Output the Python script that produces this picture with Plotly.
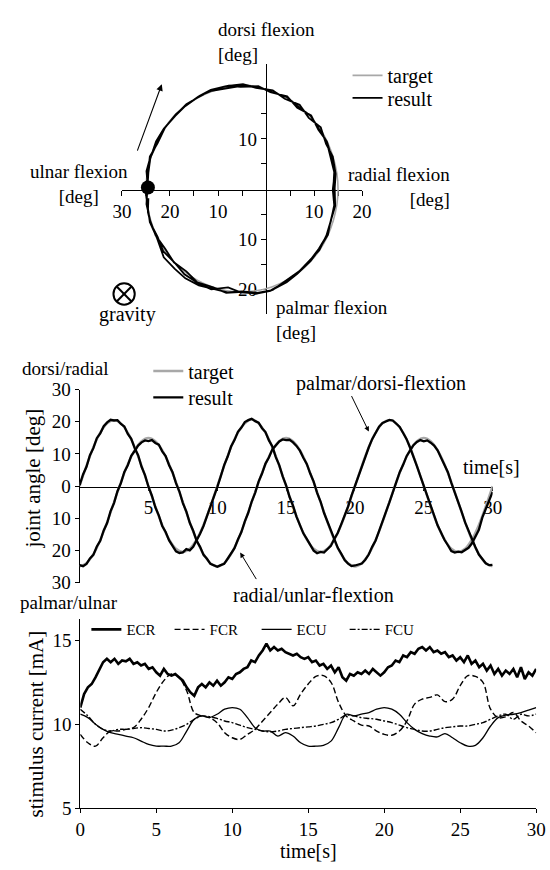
import numpy as np
import plotly.graph_objects as go

W, H = 550, 870
def PX(x): return x / W
def PY(y): return 1 - y / H

FONT = "Liberation Serif"

# ---------------- data ----------------
# joint-angle trajectories (deg), target sampled every 0.5 s
t_target = np.arange(0, 30.001, 0.5)
PD_TARGET = [0, 6.3, 12.1, 16.6, 19.5, 20.5, 19.5, 16.6, 12.1, 6.3,
             0, -6.3, -12.1, -16.6, -19.5, -20.5, -19.5, -16.6, -12.1, -6.3,
             0, 6.3, 12.1, 16.6, 19.5, 20.8, 19.5, 16.6, 12.1, 6.3,
             0, -6.3, -12.1, -16.6, -19.5, -20.5, -19.5, -16.6, -12.1, -6.3,
             0, 6.3, 12.1, 16.6, 19.5, 20.5, 19.5, 16.6, 12.1, 6.3,
             0, -6.3, -12.1, -16.6, -19.5, -20.5, -19.5, -16.6, -12.1, -6.3,
             0]
RU_TARGET = [-25, -24.0, -21.2, -16.8, -11.2, -5, 1.2, 6.8, 11.2, 14.0,
             15, 14.0, 11.2, 6.8, 1.2, -5, -11.2, -16.8, -21.2, -24.0,
             -25, -24.0, -21.2, -16.8, -11.2, -5, 1.2, 6.8, 11.2, 14.0,
             15, 14.0, 11.2, 6.8, 1.2, -5, -11.2, -16.8, -21.2, -24.0,
             -25, -24.0, -21.2, -16.8, -11.2, -5, 1.2, 6.8, 11.2, 14.0,
             15, 14.0, 11.2, 6.8, 1.2, -5, -11.2, -16.8, -21.2, -24.0,
             -25]

# result sampled every 0.25 s
t_result = np.arange(0, 30.001, 0.25)
PD_RESULT = [0.3, 3.6, 6.0, 9.6, 11.8, 14.9, 16.4, 18.6, 19.8, 20.6,
             20.4, 20.5, 19.3, 18.5, 16.2, 14.7, 11.8, 9.6, 6.0, 3.4,
             -0.2, -3.0, -6.6, -9.1, -12.4, -14.3, -16.9, -18.6, -20.3, -20.8,
             -20.6, -19.6, -20.0, -18.9, -17.0, -14.8, -12.4, -9.5, -6.6, -3.4,
             -0.3, 3.0, 6.5, 9.1, 12.3, 14.3, 16.9, 18.2, 19.9, 20.5,
             20.9, 20.2, 19.7, 18.0, 16.8, 14.2, 12.3, 9.0, 6.5, 3.0,
             0.2, -3.4, -6.1, -9.5, -11.9, -14.7, -16.4, -18.5, -20.1, -20.9,
             -20.5, -20.7, -19.6, -18.6, -16.4, -14.6, -11.9, -9.2, -6.4, -3.0,
             0.1, 3.3, 6.1, 9.5, 12.0, 14.6, 16.5, 18.5, 19.6, 20.2,
             20.6, 20.4, 19.4, 18.4, 16.5, 14.6, 12.0, 9.4, 6.2, 3.1,
             -0.1, -3.2, -6.4, -9.2, -12.2, -14.4, -16.7, -18.4, -20.2, -20.7,
             -20.4, -20.6, -19.9, -19.2, -17.8, -15.9, -13.6, -9.8, -7.0, -4.6,
             -1.8]
RU_RESULT = [-24.6, -24.9, -24.2, -22.5, -21.4, -18.8, -17.0, -13.8, -11.5, -7.8,
             -5.3, -1.6, 0.9, 4.4, 6.5, 9.4, 10.9, 12.6, 13.6, 14.2,
             14.0, 14.3, 13.4, 12.9, 10.8, 9.3, 6.5, 4.3, 0.9, -1.7,
             -5.3, -7.9, -11.4, -13.9, -17.0, -18.9, -21.4, -22.6, -24.2, -24.6,
             -25.1, -24.6, -24.2, -22.6, -21.0, -19.3, -16.6, -14.3, -11.0, -8.3,
             -4.8, -2.1, 1.4, 3.9, 7.0, 8.9, 11.4, 12.5, 13.9, 14.5,
             14.3, 14.4, 13.6, 12.5, 11.0, 8.8, 6.9, 3.9, 1.4, -2.1,
             -4.8, -8.3, -11.0, -14.3, -16.6, -19.2, -21.0, -23.0, -24.1, -24.9,
             -24.7, -24.5, -24.1, -22.9, -21.3, -18.9, -16.9, -14.0, -11.3, -8.0,
             -5.1, -1.8, 1.0, 4.3, 6.6, 9.3, 11.0, 12.7, 13.7, 14.3,
             13.9, 14.2, 13.5, 12.6, 11.1, 9.0, 6.6, 4.3, 1.0, -1.8,
             -5.1, -8.0, -11.3, -14.0, -16.8, -19.0, -21.3, -22.7, -24.0, -24.6,
             -24.5]

# stimulus currents (mA)
t_ecr = np.arange(0, 30.001, 0.25)
ECR = [11.0, 11.8, 12.2, 12.4,   12.8, 13.3, 13.7, 13.9,   13.7, 13.9, 13.6, 13.8,
       13.75, 13.9, 13.6, 13.7,  13.5, 13.6, 13.3, 13.4,   13.1, 12.9, 13.3, 13.0,
       12.9, 13.0, 12.8, 12.6,   12.2, 11.9, 11.7, 12.2,   12.4, 12.2, 12.5, 12.3,
       12.6, 12.3, 12.5, 12.8,   12.7, 13.0, 13.1, 13.3,   13.4, 13.8, 13.7, 14.1,
       14.4, 14.8, 14.4, 14.6,   14.4, 14.5, 14.3, 14.2,   14.1, 14.2, 14.0, 13.9,
       14.0, 13.7, 13.8, 13.5,   13.6, 13.3, 13.5, 13.1,   13.4, 12.8, 12.6, 13.0,
       12.9, 13.1, 13.0, 13.2,   13.0, 13.3, 13.1, 12.9,   13.1, 13.4, 13.5, 13.8,
       13.7, 14.1, 14.0, 14.3,   14.2, 14.5, 14.6, 14.4,   14.6, 14.3, 14.4, 14.2,
       14.3, 14.0, 14.1, 13.8,   14.0, 13.7, 14.1, 13.6,   13.8, 13.4, 13.6, 13.2,
       13.5, 13.0, 13.3, 12.9,   13.2, 13.0, 13.3, 12.8,   13.4, 12.7, 13.1, 12.9,
       13.3]
t_stim = np.arange(0, 30.001, 0.5)
FCR = [9.4, 8.9, 8.7, 9.2, 9.6, 9.6, 9.7, 9.8, 10.3, 11.0,
       11.9, 12.6, 13.0, 12.8, 12.0, 10.7, 10.5, 10.4, 10.1, 9.5,
       9.2, 9.1, 9.4, 9.7, 10.2, 10.7, 11.2, 11.6, 11.1, 11.8,
       12.4, 12.85, 12.9, 12.5, 11.3, 10.5, 10.2, 9.95, 9.9, 9.6,
       9.4, 9.35, 9.6, 10.2, 11.2, 11.5, 11.6, 11.75, 11.35, 11.5,
       12.3, 12.9, 12.85, 12.5, 10.9, 10.4, 10.45, 10.7, 10.2, 9.9,
       9.5]
ECU = [10.6, 10.4, 10.0, 9.7, 9.5, 9.4, 9.3, 9.2, 9.0, 8.8,
       8.7, 8.7, 8.7, 8.9, 9.6, 10.3, 10.5, 10.4, 10.6, 10.9,
       11.0, 10.9, 10.4, 9.8, 9.6, 9.6, 9.3, 9.5, 9.3, 8.9,
       8.7, 8.7, 8.75, 9.0, 9.8, 10.6, 10.5, 10.6, 10.7, 10.9,
       11.0, 10.9, 10.6, 10.1, 9.7, 9.45, 9.3, 9.25, 9.45, 9.2,
       8.9, 8.7, 8.75, 9.2, 9.9, 10.4, 10.55, 10.6, 10.7, 10.85,
       11.0]
FCU = [10.9, 10.5, 10.0, 9.7, 9.6, 9.7, 9.7, 9.75, 9.8, 9.75,
       9.7, 9.6, 9.65, 9.8, 10.0, 10.3, 10.5, 10.45, 10.35, 10.2,
       10.1, 9.95, 9.8, 9.7, 9.6, 9.55, 9.6, 9.7, 9.75, 9.8,
       9.85, 9.9, 10.0, 10.1, 10.3, 10.55, 10.5, 10.4, 10.35, 10.3,
       10.2, 10.1, 9.95, 9.8, 9.7, 9.6, 9.6, 9.7, 9.8, 9.85,
       9.9, 9.9, 10.0, 10.1, 10.3, 10.5, 10.6, 10.3, 10.6, 10.5,
       10.6]

CIRC_XTICKS = [-30, -25, -20, -15, -10, -5, 5, 10, 15, 20]
CIRC_XTEXT = ['30', '', '20', '', '10', '', '', '10', '', '20']
CIRC_YTICKS = [-20, -15, -10, -5, 5, 10, 15, 20]
CIRC_YTEXT = ['20', '', '10', '', '', '10', '', '']
ANG_YTICKS = [-30, -20, -10, 0, 10, 20, 30]
ANG_YTEXT = ['30', '20', '10', '0', '10', '20', '30']
TIME_TICKS = [5, 10, 15, 20, 25, 30]
CUR_YTICKS = [5, 10, 15]
STIM_XTICKS = [0, 5, 10, 15, 20, 25, 30]

# ---------------- figure ----------------
GRAY = '#a8a8a8'
fig = go.Figure()

# top: trajectory in the joint-angle plane
fig.add_trace(go.Scatter(x=RU_TARGET, y=PD_TARGET, mode='lines', line=dict(color=GRAY, width=1.6, shape='spline'),
                         name='target', xaxis='x', yaxis='y', legend='legend'))
fig.add_trace(go.Scatter(x=RU_RESULT, y=PD_RESULT, mode='lines', line=dict(color='black', width=1.8),
                         name='result', xaxis='x', yaxis='y', legend='legend7'))
fig.add_trace(go.Scatter(x=[RU_RESULT[0]], y=[PD_RESULT[0]], mode='markers', marker=dict(color='black', size=14),
                         showlegend=False, xaxis='x', yaxis='y', cliponaxis=False))

# middle: joint angles vs time
fig.add_trace(go.Scatter(x=t_target, y=PD_TARGET, mode='lines', line=dict(color=GRAY, width=2.4, shape='spline'),
                         name='target', legend='legend2', xaxis='x2', yaxis='y2'))
fig.add_trace(go.Scatter(x=t_target, y=RU_TARGET, mode='lines', line=dict(color=GRAY, width=2.4, shape='spline'),
                         showlegend=False, xaxis='x2', yaxis='y2'))
fig.add_trace(go.Scatter(x=t_result, y=PD_RESULT, mode='lines', line=dict(color='black', width=2.3),
                         name='result', legend='legend8', xaxis='x2', yaxis='y2'))
fig.add_trace(go.Scatter(x=t_result, y=RU_RESULT, mode='lines', line=dict(color='black', width=2.3),
                         showlegend=False, xaxis='x2', yaxis='y2'))

# bottom: stimulus currents
fig.add_trace(go.Scatter(x=t_ecr, y=ECR, mode='lines', line=dict(color='black', width=2.6),
                         name='ECR', legend='legend3', xaxis='x3', yaxis='y3'))
fig.add_trace(go.Scatter(x=t_stim, y=FCR, mode='lines', line=dict(color='black', width=1.4, dash='6px,3px', shape='spline'),
                         name='FCR', legend='legend4', xaxis='x3', yaxis='y3'))
fig.add_trace(go.Scatter(x=t_stim, y=ECU, mode='lines', line=dict(color='black', width=1.3, shape='spline'),
                         name='ECU', legend='legend5', xaxis='x3', yaxis='y3'))
fig.add_trace(go.Scatter(x=t_stim, y=FCU, mode='lines', line=dict(color='black', width=1.4, dash='6px,2px,2px,2px', shape='spline'),
                         name='FCU', legend='legend6', xaxis='x3', yaxis='y3'))

tickfont = dict(family=FONT, size=19, color='black')
common = dict(showgrid=False, zeroline=False, showline=True, linecolor='black', linewidth=1.2,
              tickcolor='black', tickwidth=1, tickfont=tickfont, layer='below traces')

def leg(x, y, size=20):
    return dict(x=PX(x), y=PY(y), xanchor='left', yanchor='top', bgcolor='rgba(0,0,0,0)',
                font=dict(family=FONT, size=size, color='black'), tracegroupgap=0,
                itemwidth=30, borderwidth=0)

fig.update_layout(
    width=W, height=H, margin=dict(l=0, r=0, t=0, b=0),
    paper_bgcolor='white', plot_bgcolor='rgba(0,0,0,0)',
    font=dict(family=FONT, size=20, color='black'),
    xaxis=dict(domain=[PX(116.8), PX(365)], range=[-30, 20], anchor='free', position=PY(184),
               tickvals=CIRC_XTICKS, ticktext=CIRC_XTEXT, ticks='outside', ticklen=5, **common),
    yaxis=dict(domain=[PY(312), PY(55)], range=[-25, 25], anchor='free', position=PX(265.7),
               tickvals=CIRC_YTICKS, ticktext=CIRC_YTEXT, ticks='outside', ticklen=5, **common),
    xaxis2=dict(domain=[PX(73), PX(500)], range=[0, 30], anchor='free', position=PY(488.4),
                tickvals=TIME_TICKS, ticks='outside', ticklen=3, **common),
    yaxis2=dict(domain=[PY(586.7), PY(389)], range=[-30, 30], anchor='x2',
                tickvals=ANG_YTICKS, ticktext=ANG_YTEXT, ticks='outside', ticklen=4, **common),
    xaxis3=dict(domain=[PX(73.7), PX(545)], range=[0, 30], anchor='y3',
                tickvals=STIM_XTICKS, ticks='outside', ticklen=4, **common),
    yaxis3=dict(domain=[PY(818), PY(623.6)], range=[5, 16.3], anchor='x3',
                tickvals=CUR_YTICKS, ticks='outside', ticklen=4, **common),
    legend=leg(350, 47),
    legend7=leg(350, 70),
    legend2=leg(144, 350),
    legend8=leg(144, 377),
    legend3=leg(80, 618, size=15),
    legend4=leg(166, 618, size=15),
    legend5=leg(256, 618, size=15),
    legend6=leg(347, 618, size=15),
    showlegend=True,
)

def txt(s, x, y, size=20, angle=0, xanchor='center', align='center'):
    fig.add_annotation(text=s, x=PX(x), y=PY(y), xref='paper', yref='paper', showarrow=False,
                       xanchor=xanchor, yanchor='middle', textangle=angle, align=align,
                       font=dict(family=FONT, size=size, color='black'))

# top panel labels
txt('dorsi flexion<br>[deg]', 214, 33, size=19, xanchor='left', align='left')
txt('ulnar flexion<br>[deg]', 72, 178, size=19)
txt('radial flexion<br>[deg]', 458, 181, size=19, xanchor='right', align='right')
txt('gravity', 122, 312)
txt('palmar flexion<br>[deg]', 274, 318, size=19, xanchor='left', align='left')
fig.add_annotation(x=PX(158), y=PY(76), xref='paper', yref='paper', text='', showarrow=True,
                   ax=-25, ay=68, arrowhead=2, arrowsize=1.2, arrowwidth=1.1, arrowcolor='black')
# gravity symbol
gx, gy, r = 119, 291, 11
fig.add_shape(type='circle', xref='paper', yref='paper', x0=PX(gx - r), x1=PX(gx + r), y0=PY(gy + r), y1=PY(gy - r),
              line=dict(color='black', width=2))
d = r * 0.72
fig.add_shape(type='line', xref='paper', yref='paper', x0=PX(gx - d), y0=PY(gy - d), x1=PX(gx + d), y1=PY(gy + d),
              line=dict(color='black', width=2))
fig.add_shape(type='line', xref='paper', yref='paper', x0=PX(gx - d), y0=PY(gy + d), x1=PX(gx + d), y1=PY(gy - d),
              line=dict(color='black', width=2))

# middle panel labels
txt('dorsi/radial', 58, 367, size=19)
txt('palmar/ulnar', 62, 607, size=19)
txt('joint angle [deg]', 25, 480, size=21, angle=-90)
txt('palmar/dorsi-flextion', 385, 383)
txt('radial/unlar-flextion', 315, 599)
txt('time[s]', 499, 468)
fig.add_annotation(x=PX(372), y=PY(432), xref='paper', yref='paper', text='', showarrow=True,
                   ax=-18, ay=-37, arrowhead=2, arrowsize=1, arrowwidth=1, arrowcolor='black')
fig.add_annotation(x=PX(239), y=PY(556), xref='paper', yref='paper', text='', showarrow=True,
                   ax=17, ay=28, arrowhead=2, arrowsize=1, arrowwidth=1, arrowcolor='black')

# bottom panel labels
txt('stimulus current [mA]', 28, 732, size=21, angle=-90)
txt('time[s]', 310, 862)

fig.write_html('out.html')
